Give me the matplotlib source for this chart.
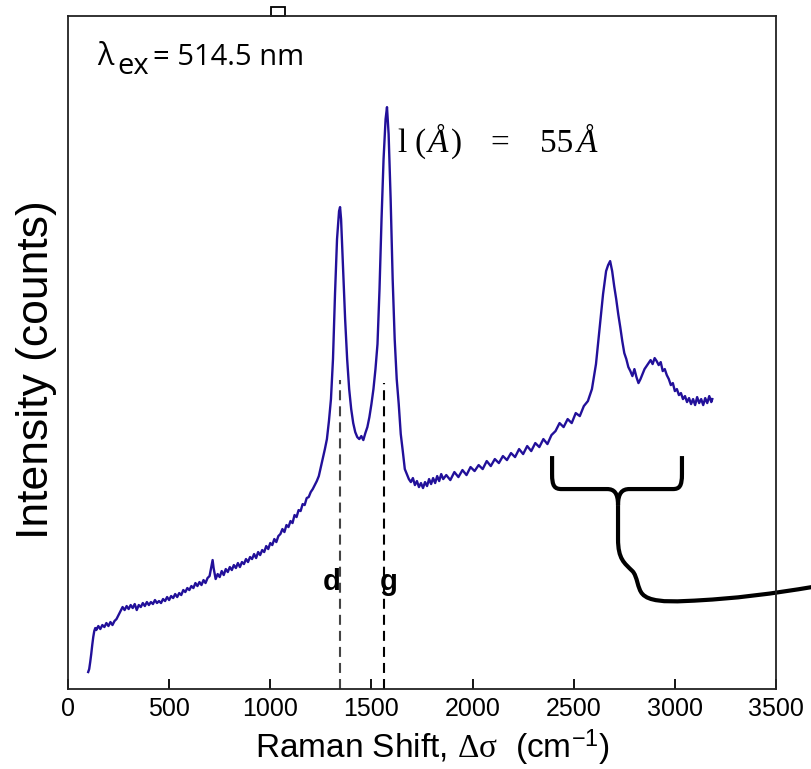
import matplotlib
matplotlib.use('Agg')
import matplotlib.pyplot as plt
from matplotlib.path import Path
from matplotlib.patches import PathPatch, Rectangle

plt.rcParams['mathtext.fontset'] = 'custom'
plt.rcParams['mathtext.rm'] = 'Liberation Serif'
plt.rcParams['mathtext.it'] = 'Liberation Serif:italic'
plt.rcParams['mathtext.sf'] = 'Liberation Sans'

# Espectro Raman (intensidad en unidades arbitrarias)
raman_shift = [100, 105, 110, 115, 120, 125, 130, 135, 140, 150, 160, 170, 180, 190, 200,
               210, 220, 230, 240, 250, 260, 270, 280, 290, 300, 310, 320, 330, 340, 350,
               360, 370, 380, 390, 400, 410, 420, 430, 440, 450, 460, 470, 480, 490, 500,
               510, 520, 530, 540, 550, 560, 570, 580, 590, 600, 610, 620, 630, 640, 650,
               660, 670, 680, 690, 700, 710, 715, 720, 730, 740, 750, 760, 770, 780, 790,
               800, 810, 820, 830, 840, 850, 860, 870, 880, 890, 900, 910, 920, 930, 940,
               950, 960, 970, 980, 990, 1000, 1010, 1020, 1030, 1040, 1050, 1060, 1070, 1080,
               1090, 1100, 1110, 1120, 1130, 1140, 1150, 1160, 1170, 1180, 1190, 1200, 1210,
               1220, 1230, 1240, 1250, 1260, 1270, 1280, 1290, 1300, 1310, 1320, 1330, 1340,
               1345, 1350, 1360, 1370, 1380, 1390, 1400, 1410, 1420, 1430, 1440, 1450, 1460,
               1470, 1480, 1490, 1500, 1510, 1520, 1530, 1540, 1550, 1560, 1570, 1577, 1585,
               1595, 1605, 1615, 1625, 1635, 1645, 1655, 1665, 1675, 1685, 1695, 1705, 1715,
               1725, 1735, 1745, 1755, 1765, 1775, 1785, 1795, 1805, 1815, 1825, 1835, 1845,
               1855, 1870, 1890, 1910, 1930, 1950, 1970, 1990, 2010, 2030, 2050, 2070, 2090,
               2110, 2130, 2150, 2170, 2190, 2210, 2230, 2250, 2270, 2290, 2310, 2330, 2350,
               2370, 2390, 2410, 2430, 2450, 2470, 2490, 2510, 2530, 2550, 2570, 2590, 2610,
               2630, 2645, 2660, 2670, 2680, 2690, 2700, 2710, 2720, 2730, 2740, 2750, 2760,
               2770, 2780, 2790, 2800, 2810, 2820, 2830, 2840, 2850, 2860, 2870, 2880, 2890,
               2900, 2910, 2920, 2930, 2940, 2950, 2960, 2970, 2980, 2990, 3000, 3010, 3020,
               3030, 3040, 3050, 3060, 3070, 3080, 3090, 3100, 3110, 3120, 3130, 3140, 3150,
               3160, 3170, 3180, 3185]
intensidad = [17, 20, 27, 35, 44, 52, 58, 61, 59, 63, 60, 64, 62, 66, 63,
              67, 64, 68, 70, 74, 78, 82, 79, 83, 80, 84, 81, 85, 79, 84,
              82, 86, 83, 87, 84, 87, 85, 89, 86, 88, 86, 90, 88, 92, 89,
              93, 91, 95, 92, 96, 94, 99, 97, 101, 99, 103, 101, 106, 103, 107,
              104, 109, 106, 111, 113, 124, 129, 121, 110, 115, 112, 118, 114, 120, 117,
              122, 119, 124, 121, 126, 122, 127, 125, 130, 127, 132, 130, 135, 131, 137,
              134, 139, 137, 143, 140, 146, 144, 150, 147, 153, 155, 160, 157, 164,
              162, 168, 166, 174, 172, 179, 178, 185, 184, 191, 192, 197, 200,
              204, 208, 213, 222, 231, 240, 250, 268, 290, 330, 395, 450, 478,
              482, 470, 420, 370, 330, 300, 280, 266, 257, 252, 250, 253, 249,
              256, 262, 272, 285, 300, 320, 345, 400, 470, 530, 570, 582, 555,
              490, 410, 350, 310, 285, 255, 238, 220, 215, 210, 207, 211, 204,
              208, 202, 206, 201, 207, 203, 210, 205, 211, 206, 213, 208, 215,
              210, 214, 209, 217, 212, 219, 214, 222, 218, 224, 220, 228, 223,
              230, 226, 233, 229, 236, 232, 240, 235, 243, 238, 246, 242, 250,
              245, 254, 258, 266, 262, 270, 266, 276, 273, 283, 288, 300, 325,
              365, 395, 418, 424, 428, 418, 403, 390, 375, 362, 348, 336, 330,
              322, 318, 313, 320, 312, 306, 310, 315, 320, 323, 326, 329, 325,
              331, 328, 324, 327, 318, 320, 314, 310, 304, 306, 298, 300, 294,
              296, 290, 293, 287, 291, 285, 290, 284, 292, 286, 290, 284, 291,
              286, 293, 287, 290]

# Posiciones de las bandas d y g
banda_d = 1345
banda_g = 1562

fig = plt.figure(figsize=(8.12, 7.69), dpi=100)
ax = fig.add_axes([0.0837, 0.104, 0.872, 0.875])

ax.plot(raman_shift, intensidad, color='#22109a', linewidth=1.7)

# Lineas discontinuas de las bandas
ax.plot([banda_d, banda_d], [0, 309], color='#444444', linewidth=1.5, linestyle=(0, (4.8, 2.9)))
ax.plot([banda_g, banda_g], [0, 306], color='black', linewidth=1.5, linestyle=(0, (4.8, 2.9)))
ax.text(1305, 99, 'd', fontsize=21, fontweight='bold', family='Liberation Sans', ha='center', va='baseline')
ax.text(1587, 99, 'g', fontsize=21, fontweight='bold', family='Liberation Sans', ha='center', va='baseline')

# Textos
ax.text(143, 624, 'λ', fontsize=22, family='Open Sans', va='baseline')
ax.text(245, 615, 'ex', fontsize=21, family='Open Sans', va='baseline')
ax.text(418, 624, '= 514.5 nm', fontsize=21, family='Open Sans', va='baseline')

serif = 'Liberation Serif'
ax.text(1626, 537, 'l', fontsize=24, family=serif, va='baseline')
ax.text(1715, 537, '(', fontsize=24, family=serif, va='baseline')
ax.text(1778, 537, 'Å', fontsize=24, family=serif, style='italic', va='baseline')
ax.text(1893, 537, ')', fontsize=24, family=serif, va='baseline')
ax.text(2086, 537, '=', fontsize=24, family=serif, va='baseline')
ax.text(2333, 537, '55', fontsize=24, family=serif, va='baseline')
ax.text(2516, 537, 'Å', fontsize=24, family=serif, style='italic', va='baseline')

# Llave y linea de conexion
codes = [Path.MOVETO, Path.LINETO, Path.CURVE4, Path.CURVE4, Path.CURVE4, Path.LINETO,
         Path.CURVE4, Path.CURVE4, Path.CURVE4]
brazo_izq = Path([(2393, 233), (2393, 215), (2393, 203), (2405, 200), (2440, 200), (2665, 200),
                  (2700, 200), (2719, 196), (2719, 184)], codes)
brazo_der = Path([(3035, 233), (3035, 215), (3035, 203), (3023, 200), (2990, 200), (2775, 200),
                  (2740, 200), (2719, 196), (2719, 184)], codes)
tallo = Path([(2719, 184), (2719, 150), (2719, 130), (2750, 126), (2790, 118),
              (2815, 113), (2815, 100), (2840, 95), (2870, 88), (2950, 87), (3050, 88),
              (3300, 90), (3500, 96), (3678, 102)],
             [Path.MOVETO, Path.LINETO] + [Path.CURVE4] * 12)
for p in (brazo_izq, brazo_der, tallo):
    ax.add_patch(PathPatch(p, facecolor='none', edgecolor='black', linewidth=3, clip_on=False,
                           capstyle='butt'))

# Pequeño cuadro sobre el eje superior
ax.add_patch(Rectangle((1005, 673), 70, 9, facecolor='white', edgecolor='black', linewidth=1.3,
                       clip_on=False))

ax.set_xlim(0, 3500)
ax.set_ylim(0, 673)
ax.set_xticks([0, 500, 1000, 1500, 2000, 2500, 3000, 3500])
ax.set_yticks([])
ax.tick_params(axis='x', direction='in', length=7, width=1.3, pad=6, labelsize=18)
for lab in ax.get_xticklabels():
    lab.set_family('Liberation Sans')
for s in ax.spines.values():
    s.set_linewidth(1.3)
    s.set_color('#222222')

ax.text(0.514, -0.0877, r'Raman Shift, $\mathrm{\Delta\sigma}$  (cm$^{\mathsf{-1}}$)', fontsize=24,
        family='Liberation Sans', ha='center', va='center', transform=ax.transAxes)
ax.text(-0.044, 0.474, 'Intensity (counts)', fontsize=32, family='Liberation Sans', rotation=90,
        ha='center', va='center', transform=ax.transAxes)

fig.savefig('out.png', dpi=100)
